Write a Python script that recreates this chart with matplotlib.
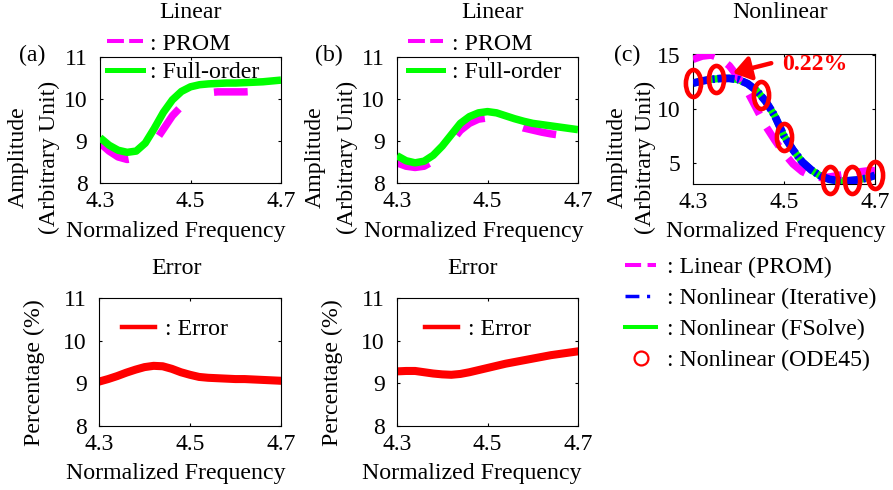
import matplotlib
matplotlib.use('Agg')
import matplotlib.pyplot as plt
import numpy as np
from matplotlib.lines import Line2D
from matplotlib.path import Path

plt.rcParams['font.family'] = ['Liberation Serif', 'DejaVu Serif']

# ---------------- data ----------------
freq = [4.30, 4.32, 4.34, 4.36, 4.38, 4.40, 4.42, 4.44, 4.46, 4.48, 4.50,
        4.52, 4.54, 4.56, 4.58, 4.60, 4.62, 4.64, 4.66, 4.68, 4.70]

a_full = [9.08, 8.90, 8.78, 8.73, 8.76, 8.95, 9.30, 9.68, 9.98, 10.18, 10.29,
          10.34, 10.36, 10.37, 10.38, 10.38, 10.39, 10.40, 10.41, 10.43, 10.45]
a_prom = [8.95, 8.76, 8.62, 8.56, 8.60, 8.74, 8.96, 9.28, 9.60, 9.83, 10.00,
          10.10, 10.15, 10.17, 10.17, 10.17, 10.17, 10.18, 10.20, 10.22, 10.25]

b_full = [8.65, 8.53, 8.48, 8.52, 8.66, 8.88, 9.15, 9.42, 9.58, 9.67, 9.70,
          9.67, 9.60, 9.53, 9.47, 9.42, 9.39, 9.36, 9.33, 9.30, 9.27]
b_prom = [8.48, 8.40, 8.37, 8.40, 8.52, 8.72, 8.98, 9.25, 9.42, 9.52, 9.55,
          9.52, 9.46, 9.38, 9.31, 9.26, 9.21, 9.17, 9.14, 9.11, 9.09]

c_prom = [14.6, 14.9, 15.0, 14.7, 14.0, 12.9, 11.6, 10.0, 8.4, 7.1, 5.9,
          4.9, 4.2, 3.8, 3.65, 3.7, 3.85, 4.0, 4.15, 4.25, 4.3]
c_iterative = [12.4, 12.6, 12.75, 12.83, 12.84, 12.72, 12.35, 11.7, 10.7, 9.35, 7.5,
               6.2, 5.1, 4.35, 3.8, 3.48, 3.35, 3.35, 3.42, 3.58, 3.85]
c_fsolve = [12.4, 12.6, 12.75, 12.83, 12.84, 12.72, 12.35, 11.7, 10.7, 9.35, 7.5,
            6.2, 5.1, 4.35, 3.8, 3.48, 3.35, 3.35, 3.42, 3.58, 3.85]
ode_freq = [4.30, 4.35, 4.45, 4.50, 4.60, 4.65, 4.70]
ode_amp = [12.45, 12.75, 11.3, 7.45, 3.45, 3.45, 3.85]

err_a = [9.04, 9.10, 9.17, 9.25, 9.32, 9.38, 9.41, 9.40, 9.34, 9.26, 9.20,
         9.15, 9.13, 9.12, 9.11, 9.10, 9.10, 9.09, 9.08, 9.07, 9.06]
err_b = [9.28, 9.29, 9.29, 9.26, 9.23, 9.21, 9.20, 9.22, 9.26, 9.31, 9.36,
         9.41, 9.46, 9.50, 9.54, 9.58, 9.62, 9.66, 9.69, 9.72, 9.75]

xticks = [4.3, 4.5, 4.7]
xticklabels = ['4.3', '4.5', '4.7']
amp_ticks = [8, 9, 10, 11]
c_ticks = [5, 10, 15]

# ---------------- style ----------------
W, H = 893, 490
FS = 17.2
TFS = 17.0
MAG, GRN, BLU, RED = '#FF00FF', '#00FF00', '#0000FF', '#FF0000'

fig = plt.figure(figsize=(W / 100, H / 100), dpi=100)


def px_axes(l, t, r, b):
    return fig.add_axes([l / W, 1 - b / H, (r - l) / W, (b - t) / H])


def ftext(x, y, s, **kw):
    kw.setdefault('ha', 'center')
    kw.setdefault('va', 'center')
    kw.setdefault('fontsize', FS)
    fig.text(x / W, 1 - y / H, s, **kw)


def style(ax, ylim, yticks):
    ax.set_xlim(4.3, 4.7)
    ax.set_ylim(*ylim)
    ax.set_xticks(xticks)
    ax.set_xticklabels(xticklabels)
    ax.set_yticks(yticks)
    ax.tick_params(direction='in', top=True, right=True, length=2.5,
                   width=0.8, labelsize=TFS)
    ax.tick_params(axis='x', pad=6)
    ax.tick_params(axis='y', pad=9)
    for s in ax.spines.values():
        s.set_linewidth(0.8)


def legend_at(ax, handles, labels, x, y, hl, htp, ls=0.27):
    ax.legend(handles, labels, loc='center left', frameon=False,
              bbox_to_anchor=(x / W, 1 - y / H), bbox_transform=fig.transFigure,
              borderpad=0, borderaxespad=0, handlelength=hl,
              handletextpad=htp, labelspacing=ls, fontsize=FS)


LW = 5.4
prom_dash = (4.5, 5.3)

# (a) linear
axa = px_axes(100, 57, 281, 183)
axa.plot(freq, a_prom, color=MAG, lw=LW, dashes=prom_dash, zorder=2)
axa.plot(freq, a_full, color=GRN, lw=LW, solid_capstyle='butt', zorder=3)
style(axa, (8, 11), amp_ticks)

# (b) linear
axb = px_axes(397, 57, 578, 183)
axb.plot(freq, b_prom, color=MAG, lw=LW, dashes=prom_dash, zorder=2)
axb.plot(freq, b_full, color=GRN, lw=LW, solid_capstyle='butt', zorder=3)
style(axb, (8, 11), amp_ticks)

prom_h = Line2D([], [], color=MAG, lw=2.9, dashes=(4.2, 1.3))
full_h = Line2D([], [], color=GRN, lw=3.6)
legend_at(axa, [prom_h, full_h], [': PROM', ': Full-order'], 107, 58, 1.5, 0.3)
legend_at(axb, [prom_h, full_h], [': PROM', ': Full-order'], 408, 58, 1.45, 0.4)

# (c) nonlinear
circ = Path.unit_circle()
ellipse = Path(circ.vertices * np.array([0.56, 1.0]), circ.codes)

axc = px_axes(693, 54, 875, 184)
axc.plot(freq, c_fsolve, color=GRN, lw=5.2, zorder=2)
axc.plot(freq, c_prom, color=MAG, lw=LW, dashes=(3.0, 2.0), zorder=3)
axc.plot(freq, c_iterative, color=BLU, lw=5.6, dashes=(2.2, 0.35, 0.3, 0.35), zorder=4)
axc.plot(ode_freq, ode_amp, ls='none', marker=ellipse, ms=19.5, mew=3.3,
         mec=RED, mfc='none', zorder=5, clip_on=False)
style(axc, (3.05, 15.1), c_ticks)

axc.annotate('', xy=(4.388, 13.35), xytext=(4.472, 14.25),
             arrowprops=dict(arrowstyle='-|>,head_length=0.55,head_width=0.38',
                             color=RED, lw=3.2, mutation_scale=19,
                             shrinkA=0, shrinkB=0), annotation_clip=False)
ftext(815, 64, '0.22%', color=RED, fontweight='bold')

hc = [Line2D([], [], color=MAG, lw=2.9, dashes=(4.0, 1.6)),
      Line2D([], [], color=BLU, lw=2.5, dashes=(4.0, 2.2, 0.9, 2.2)),
      Line2D([], [], color=GRN, lw=2.9),
      Line2D([], [], ls='none', marker='o', ms=10, mew=1.6, mec=RED, mfc='none')]
fig.legend(hc, [': Linear (PROM)', ': Nonlinear (Iterative)',
                ': Nonlinear (FSolve)', ': Nonlinear (ODE45)'],
           loc='center left', frameon=False,
           bbox_to_anchor=(625 / W, 1 - 314 / H), bbox_transform=fig.transFigure,
           borderpad=0, borderaxespad=0, handlelength=1.3, handletextpad=0.45,
           labelspacing=0.39, fontsize=FS)

# error panels
axd = px_axes(99, 298, 281, 426)
axd.plot(freq, err_a, color=RED, lw=5.8)
style(axd, (8, 11), amp_ticks)
axe = px_axes(397, 298, 578, 426)
axe.plot(freq, err_b, color=RED, lw=5.8)
style(axe, (8, 11), amp_ticks)
err_h = Line2D([], [], color=RED, lw=3.2)
legend_at(axd, [err_h], [': Error'], 122, 329, 1.4, 0.4)
legend_at(axe, [err_h], [': Error'], 425, 329, 1.4, 0.4)

# titles / labels
ftext(190, 12, 'Linear')
ftext(492, 12, 'Linear')
ftext(780, 12, 'Nonlinear')
ftext(177, 268, 'Error')
ftext(473, 268, 'Error')

ftext(32, 55, '(a)')
ftext(329, 55, '(b)')
ftext(627, 55, '(c)')

for xa, xb, xc in [(18, 49, 176), (315, 347, 474), (617, 645, 776)]:
    ftext(xa, 157, 'Amplitude', rotation=90)
    ftext(xb, 157, '(Arbitrary Unit)', rotation=90)
    ftext(xc, 231, 'Normalized Frequency')

for xp, xc in [(34, 176), (332, 472)]:
    ftext(xp, 373, 'Percentage (%)', rotation=90)
    ftext(xc, 473, 'Normalized Frequency')

fig.savefig('out.png', dpi=100)
